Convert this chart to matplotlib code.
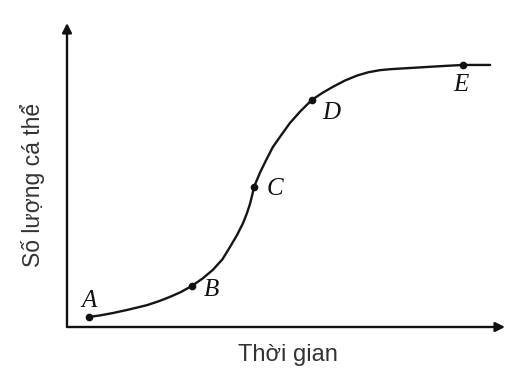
import matplotlib
matplotlib.use("Agg")
import matplotlib.pyplot as plt

# points (time, number of individuals)
time = [0.50, 0.75, 1.05, 1.40, 1.83, 2.10, 2.35, 2.60, 2.85, 3.10, 3.33,
        3.55, 3.72, 3.88, 4.02, 4.11, 4.18, 4.23, 4.27, 4.34, 4.41, 4.55,
        4.70, 4.90, 5.09, 5.33, 5.59, 5.83, 6.07, 6.35, 6.62, 6.88, 7.15,
        7.38, 7.60, 7.95, 8.29, 8.65, 9.04, 9.66]
count = [3.3, 3.8, 4.6, 5.7, 7.2, 8.5, 9.9, 11.5, 13.5, 16.0, 18.8,
         22.3, 26.3, 30.2, 34.2, 37.5, 40.6, 43.5, 46.1, 48.5, 50.9, 55.0,
         59.2, 63.3, 67.1, 71.0, 74.7, 77.0, 79.0, 81.1, 82.7, 83.8, 84.5,
         84.8, 85.0, 85.3, 85.6, 85.9, 86.2, 86.2]

# labelled points on the curve
point_names = ["A", "B", "C", "D", "E"]
point_time = [0.50, 2.85, 4.27, 5.59, 9.04]
point_count = [3.3, 13.5, 46.1, 74.7, 86.2]
label_offset = [(0.0, 5.2), (0.45, -1.3), (0.47, -0.7), (0.45, -4.3), (-0.05, -6.6)]

fig = plt.figure(figsize=(5.14, 3.74), dpi=100)
ax = fig.add_axes([67 / 514, 47 / 374, 438 / 514, 304 / 374])
ax.set_xlim(0, 10)
ax.set_ylim(0, 100)
for s in ax.spines.values():
    s.set_visible(False)
ax.set_xticks([])
ax.set_yticks([])

# axes with arrow heads
arrow = dict(arrowstyle="-|>", lw=1.7, color="#111111", mutation_scale=14,
             shrinkA=0, shrinkB=0)
ax.annotate("", xy=(1, 0), xytext=(0, 0), xycoords="axes fraction", arrowprops=arrow)
ax.annotate("", xy=(0, 1), xytext=(0, 0), xycoords="axes fraction", arrowprops=arrow)

ax.plot(time, count, color="#151515", lw=1.7, solid_joinstyle="round",
        solid_capstyle="round")
ax.plot(point_time, point_count, "o", color="#111111", ms=4.5)

for name, t, n, (dx, dy) in zip(point_names, point_time, point_count, label_offset):
    ax.text(t + dx, n + dy, name, family="Liberation Serif", style="italic",
            fontsize=18, ha="center", va="center", color="#111111")

fig.text(288 / 514, 1 - 355 / 374, "Thời gian", family="Liberation Sans",
         fontsize=17, ha="center", va="center", color="#333333")
fig.text(33 / 514, 1 - 185 / 374, "Số lượng cá thể", family="Liberation Sans",
         fontsize=16.5, ha="center", va="center", rotation=90, color="#333333")

fig.savefig("out.png", dpi=100)
